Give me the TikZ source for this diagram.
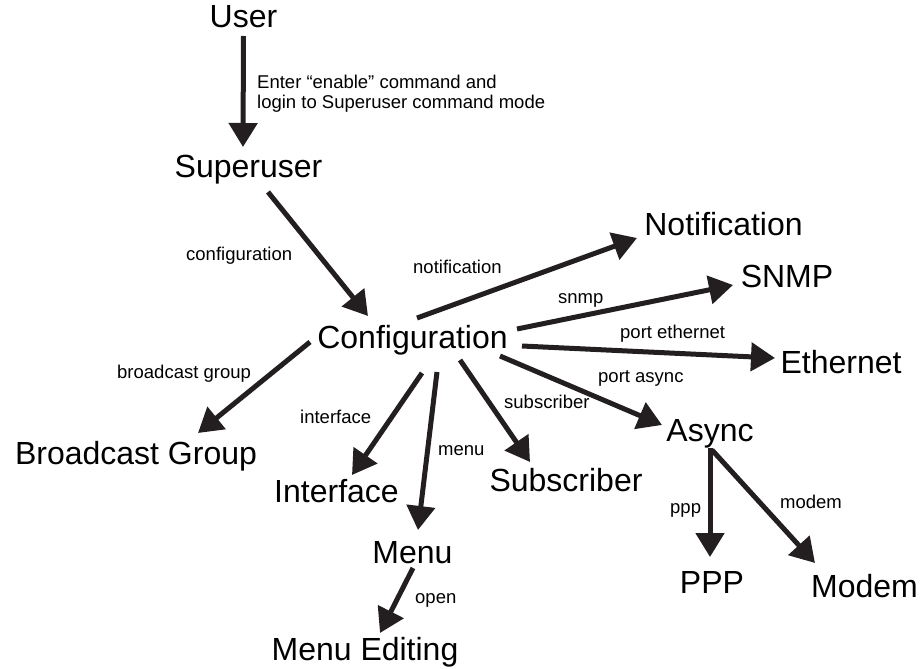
\documentclass[tikz,border=0pt]{standalone}
\usepackage{fontspec}
\setmainfont{Liberation Sans}
\usetikzlibrary{arrows.meta}
\definecolor{ink}{RGB}{35,31,32}

\begin{document}
\begin{tikzpicture}
      [x=1pt, y=-1pt,
        big/.style={inner sep=0pt, anchor=base, font=\fontsize{32}{36}\selectfont},
        small/.style={inner sep=0pt, anchor=base west, font=\fontsize{18.5}{20}\selectfont},
        arr/.style={draw=ink, line width=5pt, -{Triangle[length=24pt, width=28pt]}}]
    \useasboundingbox (0,0) rectangle (922,669);
    % modes
    \node[big] (user)   at (243.5,28)  {User};
    \node[big] (super)  at (248.5,177) {Superuser};
    \node[big] (cfg)    at (412.5,348) {Configuration};
    \node[big] (notif)  at (723.5,235) {Notification};
    \node[big] (snmp)   at (787,287)   {SNMP};
    \node[big] (eth)    at (841,373)   {Ethernet};
    \node[big] (async)  at (710,441)   {Async};
    \node[big] (bcast)  at (136,464)   {Broadcast Group};
    \node[big] (iface)  at (336.5,502) {Interface};
    \node[big] (subs)   at (566,491)   {Subscriber};
    \node[big] (menu)   at (412.5,563) {Menu};
    \node[big] (medit)  at (365,660)   {Menu Editing};
    \node[big] (ppp)    at (712,593)   {PPP};
    \node[big] (modem)  at (864.5,597) {Modem};
    % commands
    \node[small, anchor=north west, align=left] (enablelab) at (257,75)
      {Enter “enable” command and\\login to Superuser command mode};
    \node[small] (cfglab)   at (186,260) {configuration};
    \node[small] (bcastlab) at (117,378) {broadcast group};
    \node[small] (notiflab) at (413,273) {notification};
    \node[small] (snmplab)  at (558,303) {snmp};
    \node[small] (ethlab)   at (620,338) {port ethernet};
    \node[small] (asynclab) at (598,382) {port async};
    \node[small] (subslab)  at (504,408) {subscriber};
    \node[small] (ifacelab) at (300,423) {interface};
    \node[small] (menulab)  at (438,455) {menu};
    \node[small] (openlab)  at (415,603) {open};
    \node[small] (ppplab)   at (670,513) {ppp};
    \node[small] (modemlab) at (780,508) {modem};
    % arrows
    \draw[arr] ([shift={(0,8)}]user.base) -- ([shift={(-5.5,-30)}]super.base);
    \draw[arr] ([shift={(19.5,15)}]super.base) -- ([shift={(-44.5,-32)}]cfg.base);
    \draw[arr] ([shift={(4.5,-30)}]cfg.base) -- ([shift={(-86.5,3)}]notif.base);
    \draw[arr] ([shift={(104.5,-19)}]cfg.base) -- ([shift={(-54,-2)}]snmp.base);
    \draw[arr] ([shift={(109.5,-2)}]cfg.base) -- ([shift={(-66,-15)}]eth.base);
    \draw[arr] ([shift={(87.5,8)}]cfg.base) -- ([shift={(-48,-16)}]async.base);
    \draw[arr] ([shift={(47.5,12)}]cfg.base) -- ([shift={(-36,-29)}]subs.base);
    \draw[arr] ([shift={(24.5,24)}]cfg.base) -- ([shift={(5.5,-33)}]menu.base);
    \draw[arr] ([shift={(9.5,25)}]cfg.base) -- ([shift={(15.5,-27)}]iface.base);
    \draw[arr] ([shift={(-102.5,-6)}]cfg.base) -- ([shift={(62,-31)}]bcast.base);
    \draw[arr] ([shift={(0.5,5)}]menu.base) -- ([shift={(15,-27)}]medit.base);
    \draw[arr] ([shift={(0,7)}]async.base) -- ([shift={(-2,-36)}]ppp.base);
    \draw[arr] ([shift={(2,9)}]async.base) -- ([shift={(-49.5,-34)}]modem.base);
\end{tikzpicture}
\end{document}
